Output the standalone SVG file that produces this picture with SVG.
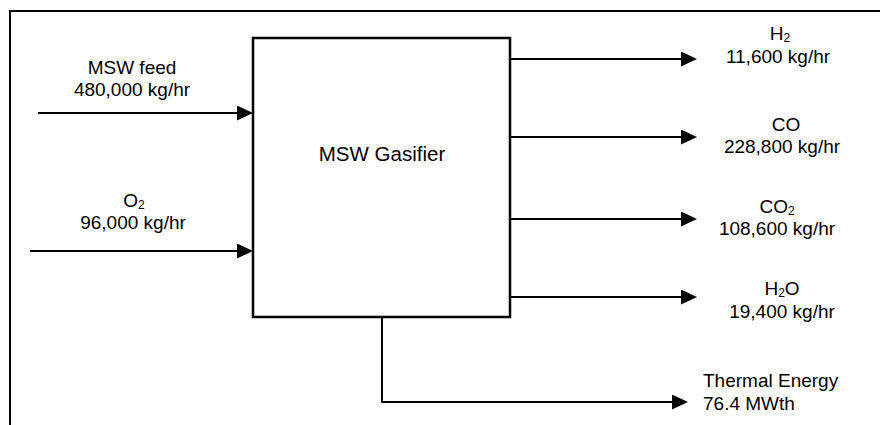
<svg xmlns="http://www.w3.org/2000/svg" width="880" height="425" viewBox="0 0 880 425">
<style>
  text { font-family: "Liberation Sans", Arial, sans-serif; font-size: 19px; fill: #000; }
  .c { text-anchor: middle; }
  .sub { font-size: 12px; }
  .big { font-size: 20.5px; }
  .ln { stroke: #000; stroke-width: 2; fill: none; }
  .box { stroke: #000; stroke-width: 2.5; fill: #fff; }
</style>
<defs>
  <marker id="ah" markerUnits="userSpaceOnUse" markerWidth="17" markerHeight="15" refX="12" refY="7.5" orient="auto">
    <path d="M0,0 L16,7.5 L0,15 Z" fill="#000"/>
  </marker>
</defs>
<rect width="880" height="425" fill="#fff"/>
<g id="frame">
  <path class="ln" d="M10,425 L10,11 L880,11"/>
</g>
<g id="connectors">
  <line class="ln" x1="38" y1="113" x2="249" y2="113" marker-end="url(#ah)"/>
  <line class="ln" x1="30" y1="251" x2="249" y2="251" marker-end="url(#ah)"/>
  <line class="ln" x1="510" y1="59" x2="693" y2="59" marker-end="url(#ah)"/>
  <line class="ln" x1="510" y1="137" x2="693" y2="137" marker-end="url(#ah)"/>
  <line class="ln" x1="510" y1="219" x2="693" y2="219" marker-end="url(#ah)"/>
  <line class="ln" x1="510" y1="297" x2="693" y2="297" marker-end="url(#ah)"/>
  <polyline class="ln" points="382,317 382,402 684,402" marker-end="url(#ah)"/>
</g>
<g id="gasifier">
  <rect class="box" x="253" y="38" width="257" height="279"/>
  <text class="c big" x="382" y="161">MSW Gasifier</text>
</g>
<g id="msw-feed">
  <text class="c" x="132" y="74">MSW feed</text>
  <text class="c" x="132" y="96">480,000 kg/hr</text>
</g>
<g id="o2">
  <text class="c" x="134" y="207">O<tspan class="sub" dy="2">2</tspan></text>
  <text class="c" x="133" y="229">96,000 kg/hr</text>
</g>
<g id="h2">
  <text class="c" x="780" y="40">H<tspan class="sub" dy="2">2</tspan></text>
  <text class="c" x="778" y="63">11,600 kg/hr</text>
</g>
<g id="co">
  <text class="c" x="786" y="131">CO</text>
  <text class="c" x="782" y="153">228,800 kg/hr</text>
</g>
<g id="co2">
  <text class="c" x="777" y="213">CO<tspan class="sub" dy="2">2</tspan></text>
  <text class="c" x="777" y="235">108,600 kg/hr</text>
</g>
<g id="h2o">
  <text class="c" x="782" y="295">H<tspan class="sub" dy="2">2</tspan><tspan dy="-2">O</tspan></text>
  <text class="c" x="782" y="318">19,400 kg/hr</text>
</g>
<g id="thermal">
  <text x="703" y="387">Thermal Energy</text>
  <text x="703" y="410">76.4 MWth</text>
</g>
</svg>
